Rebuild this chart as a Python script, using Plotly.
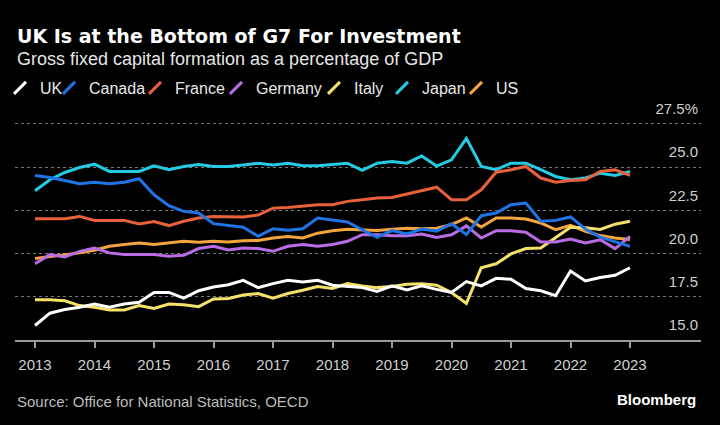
import plotly.graph_objects as go

# Quarterly observations, 2013 Q1 .. 2023 Q1
quarters = [2013 + q / 4 for q in range(41)]

uk = [15.84, 16.55, 16.76, 16.89, 17.08, 16.89, 17.08, 17.18, 17.75, 17.75, 17.42, 17.85, 18.07, 18.20,
      18.45, 18.03, 18.26, 18.45, 18.36, 18.45, 18.17, 18.09, 18.03, 17.81, 18.13, 17.90, 18.13, 17.93,
      17.75, 18.38, 18.13, 18.57, 18.51, 17.98, 17.85, 17.56, 18.99, 18.42, 18.61, 18.74, 19.18]
canada = [24.52, 24.40, 24.23, 24.04, 24.13, 24.04, 24.13, 24.33, 23.40, 22.77, 22.44, 22.35, 21.73, 21.62,
          21.52, 21.00, 21.44, 21.35, 21.44, 22.06, 21.96, 21.83, 21.38, 20.94, 21.33, 21.13, 21.42, 21.30,
          21.73, 21.10, 22.19, 22.35, 22.83, 22.92, 21.87, 21.92, 22.12, 21.42, 20.95, 20.69, 20.42]
france = [22.02, 22.02, 22.02, 22.15, 21.92, 21.92, 21.92, 21.71, 21.85, 21.62, 21.87, 22.06, 22.15, 22.13,
          22.12, 22.23, 22.63, 22.67, 22.77, 22.83, 22.83, 23.02, 23.12, 23.21, 23.25, 23.44, 23.65, 23.84,
          23.12, 23.12, 23.69, 24.71, 24.85, 25.04, 24.37, 24.13, 24.23, 24.27, 24.75, 24.85, 24.52]
germany = [19.41, 19.94, 19.81, 20.13, 20.32, 20.04, 19.94, 19.94, 19.94, 19.85, 19.90, 20.29, 20.42, 20.21,
           20.32, 20.29, 20.13, 20.42, 20.52, 20.42, 20.52, 20.71, 21.09, 21.09, 21.03, 21.03, 21.13, 20.93,
           21.09, 21.60, 20.90, 21.32, 21.32, 21.24, 20.67, 20.67, 20.84, 20.61, 20.80, 20.29, 20.99]
italy = [17.33, 17.33, 17.27, 16.99, 16.89, 16.74, 16.74, 16.99, 16.83, 17.08, 17.04, 16.93, 17.37, 17.40,
         17.60, 17.69, 17.42, 17.69, 17.88, 18.09, 17.98, 18.26, 18.13, 18.03, 18.09, 18.23, 18.26, 18.17,
         17.75, 17.12, 19.18, 19.41, 19.98, 20.29, 20.32, 20.90, 21.52, 21.50, 21.40, 21.70, 21.87]
japan = [23.63, 24.27, 24.69, 24.98, 25.17, 24.75, 24.75, 24.75, 25.08, 24.85, 25.04, 25.15, 25.04, 25.04,
         25.13, 25.23, 25.13, 25.23, 25.08, 25.08, 25.15, 25.23, 24.81, 25.23, 25.33, 25.23, 25.65, 25.06,
         25.42, 26.67, 25.04, 24.85, 25.23, 25.23, 24.85, 24.46, 24.27, 24.37, 24.65, 24.52, 24.75]
us = [19.71, 19.81, 19.90, 20.04, 20.19, 20.42, 20.52, 20.61, 20.52, 20.61, 20.71, 20.65, 20.71, 20.67,
      20.74, 20.76, 20.90, 20.99, 20.90, 21.18, 21.32, 21.41, 21.37, 21.34, 21.41, 21.47, 21.43, 21.46,
      21.67, 22.06, 21.54, 22.06, 22.06, 22.00, 21.77, 21.38, 21.63, 21.29, 21.04, 20.90, 20.81]

series_names = ["UK", "Canada", "France", "Germany", "Italy", "Japan", "US"]
series_values = [uk, canada, france, germany, italy, japan, us]
series_colors = ["#ffffff", "#1f74e6", "#e8613a", "#b96ce4", "#f5e16a", "#25cbe3", "#f4a43e"]

year_ticks = list(range(2013, 2024))
y_ticks = [15.0, 17.5, 20.0, 22.5, 25.0, 27.5]
y_ticktext = ["15.0", "17.5", "20.0", "22.5", "25.0", "27.5%"]

# legend text start positions (px) in the reference
legend_text_px = [37, 88, 174, 255, 353, 421, 495]

W, H = 720, 425
ML, MR, MT, MB = 15, 19, 97.5, 84.5
PW = W - ML - MR
PH = H - MT - MB

BASE = "Liberation Sans, Arial, sans-serif"

fig = go.Figure()

# draw lines in reverse so UK is on top
for name, vals, col in reversed(list(zip(series_names, series_values, series_colors))):
    fig.add_trace(go.Scatter(x=quarters, y=vals, mode="lines", name=name,
                             line=dict(color=col, width=3), showlegend=False,
                             hoverinfo="x+y+name"))

layout_legends = {}
for k, (name, col, tx) in enumerate(zip(series_names, series_colors, legend_text_px)):
    lid = "legend" if k == 0 else f"legend{k+1}"
    fig.add_trace(go.Scatter(x=[None], y=[None], mode="markers", name=name, legend=lid,
                             marker=dict(symbol="line-ne", size=12, color=col,
                                         line=dict(color=col, width=3)),
                             showlegend=True))
    layout_legends[lid] = dict(
        orientation="h", xref="container", yref="container",
        x=max(tx - 39, 0) / W, xanchor="left",
        y=1 - 88 / H, yanchor="middle",
        bgcolor="rgba(0,0,0,0)", borderwidth=0,
        font=dict(family=BASE, size=16, color="#e8e8e8"),
        itemclick=False, itemdoubleclick=False,
    )

fig.update_layout(
    width=W, height=H,
    margin=dict(l=ML, r=MR, t=MT, b=MB, pad=0, autoexpand=False),
    paper_bgcolor="#000000", plot_bgcolor="#000000",
    font=dict(family=BASE, color="#e0e0e0"),
    showlegend=True,
    xaxis=dict(
        range=[2013 - 20 / 59.5, 2023 + 71 / 59.5],
        tickvals=year_ticks, ticktext=[str(y) for y in year_ticks],
        showgrid=False, zeroline=False,
        showline=True, linecolor="#9a9a9a", linewidth=2,
        ticks="outside", ticklen=6, tickwidth=1.5, tickcolor="#9a9a9a",
        tickfont=dict(family=BASE, size=15, color="#d0d0d0"),
        ticklabelstandoff=4, automargin=False,
        fixedrange=True,
    ),
    yaxis=dict(
        range=[15, 29.0], side="right",
        tickvals=y_ticks, ticktext=y_ticktext,
        ticklabelposition="inside", ticklabelshift=-15,
        ticks="", showline=False, zeroline=False,
        showgrid=True, gridcolor="#777777", griddash="dot", gridwidth=1,
        tickfont=dict(family=BASE, size=15, color="#d0d0d0"),
        automargin=False,
        fixedrange=True,
    ),
    annotations=[
        dict(text="<b>UK Is at the Bottom of G7 For Investment</b>", xref="paper", yref="paper",
             x=(15 - ML) / PW, y=(PH + MT - 35) / PH, xanchor="left", yanchor="middle",
             showarrow=False, font=dict(family="DejaVu Sans, sans-serif", size=19, color="#ffffff")),
        dict(text="Gross fixed capital formation as a percentage of GDP", xref="paper", yref="paper",
             x=(15 - ML) / PW, y=(PH + MT - 58) / PH, xanchor="left", yanchor="middle",
             showarrow=False, font=dict(family=BASE, size=18, color="#e6e6e6")),
        dict(text="Source: Office for National Statistics, OECD", xref="paper", yref="paper",
             x=(15 - ML) / PW, y=(PH + MT - 402) / PH, xanchor="left", yanchor="middle",
             showarrow=False, font=dict(family=BASE, size=15, color="#bdbdbd")),
        dict(text="<b>Bloomberg</b>", xref="paper", yref="paper",
             x=(698 - ML) / PW, y=(PH + MT - 400) / PH, xanchor="right", yanchor="middle",
             showarrow=False, font=dict(family=BASE, size=15, color="#ffffff")),
    ],
    **layout_legends,
)

fig.write_html(
    "out.html",
    config={"displayModeBar": False},
    post_script="document.body.style.margin='0';document.body.style.background='#000000';",
)
